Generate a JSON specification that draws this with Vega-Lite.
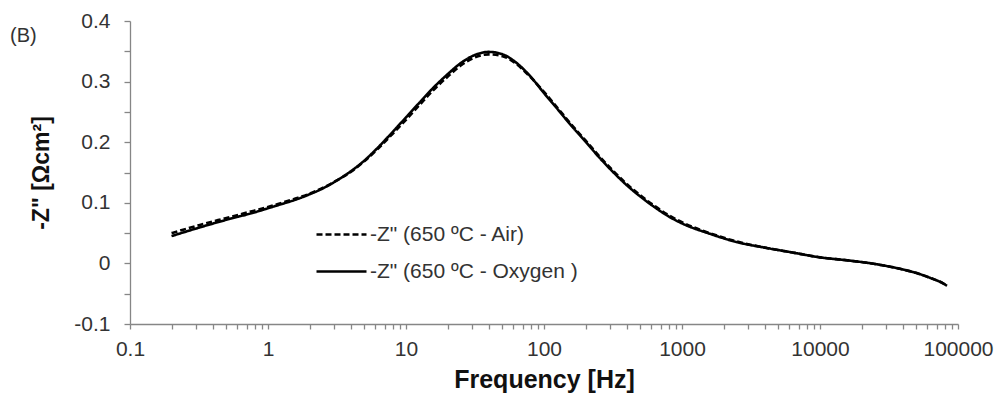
{
  "$schema": "https://vega.github.io/schema/vega-lite/v6.json",
  "width": 828,
  "height": 303,
  "autosize": {"type": "none"},
  "padding": {"left": 130, "top": 21, "right": 42, "bottom": 84},
  "background": "white",
  "title": {
    "text": "(B)",
    "anchor": "start",
    "frame": "group",
    "dx": -120,
    "dy": 32,
    "offset": -14,
    "baseline": "middle",
    "font": "Liberation Sans",
    "fontSize": 20,
    "fontWeight": "normal",
    "color": "#333333"
  },
  "config": {
    "view": {"stroke": null},
    "font": "Liberation Sans",
    "axis": {
      "grid": false,
      "domainColor": "#868686",
      "tickColor": "#868686",
      "domainWidth": 1.3,
      "tickWidth": 1.3,
      "labelFont": "Liberation Sans",
      "labelFontSize": 21,
      "labelColor": "#333333",
      "titleFont": "Liberation Sans",
      "titleFontSize": 24,
      "titleFontWeight": "bold",
      "titleColor": "#111111"
    }
  },
  "data": {
    "values": [
      {"series": "Air", "f": 0.2, "z": 0.050},
      {"series": "Air", "f": 0.316, "z": 0.063},
      {"series": "Air", "f": 0.5, "z": 0.075},
      {"series": "Air", "f": 0.794, "z": 0.087},
      {"series": "Air", "f": 1.0, "z": 0.093},
      {"series": "Air", "f": 1.26, "z": 0.100},
      {"series": "Air", "f": 1.58, "z": 0.107},
      {"series": "Air", "f": 2.0, "z": 0.115},
      {"series": "Air", "f": 2.51, "z": 0.125},
      {"series": "Air", "f": 3.16, "z": 0.137},
      {"series": "Air", "f": 3.98, "z": 0.151},
      {"series": "Air", "f": 5.01, "z": 0.169},
      {"series": "Air", "f": 6.31, "z": 0.190},
      {"series": "Air", "f": 7.94, "z": 0.213},
      {"series": "Air", "f": 10, "z": 0.237},
      {"series": "Air", "f": 12.6, "z": 0.262},
      {"series": "Air", "f": 15.8, "z": 0.286},
      {"series": "Air", "f": 20, "z": 0.308},
      {"series": "Air", "f": 25.1, "z": 0.327},
      {"series": "Air", "f": 31.6, "z": 0.340},
      {"series": "Air", "f": 39.8, "z": 0.345},
      {"series": "Air", "f": 50.1, "z": 0.342},
      {"series": "Air", "f": 63.1, "z": 0.329},
      {"series": "Air", "f": 79.4, "z": 0.308},
      {"series": "Air", "f": 100, "z": 0.283},
      {"series": "Air", "f": 126, "z": 0.256},
      {"series": "Air", "f": 158, "z": 0.229},
      {"series": "Air", "f": 200, "z": 0.203},
      {"series": "Air", "f": 251, "z": 0.177},
      {"series": "Air", "f": 316, "z": 0.153},
      {"series": "Air", "f": 398, "z": 0.131},
      {"series": "Air", "f": 501, "z": 0.112},
      {"series": "Air", "f": 631, "z": 0.095},
      {"series": "Air", "f": 794, "z": 0.080},
      {"series": "Air", "f": 1000, "z": 0.068},
      {"series": "Air", "f": 1585, "z": 0.050},
      {"series": "Air", "f": 2512, "z": 0.036},
      {"series": "Air", "f": 3981, "z": 0.026},
      {"series": "Air", "f": 6310, "z": 0.018},
      {"series": "Air", "f": 10000, "z": 0.010},
      {"series": "Air", "f": 15849, "z": 0.005},
      {"series": "Air", "f": 25119, "z": -0.001},
      {"series": "Air", "f": 39811, "z": -0.010},
      {"series": "Air", "f": 50119, "z": -0.016},
      {"series": "Air", "f": 63096, "z": -0.024},
      {"series": "Air", "f": 79433, "z": -0.034},
      {"series": "Air", "f": 83176, "z": -0.037},
      {"series": "Oxygen", "f": 0.2, "z": 0.045},
      {"series": "Oxygen", "f": 0.316, "z": 0.059},
      {"series": "Oxygen", "f": 0.5, "z": 0.072},
      {"series": "Oxygen", "f": 0.794, "z": 0.084},
      {"series": "Oxygen", "f": 1.0, "z": 0.091},
      {"series": "Oxygen", "f": 1.26, "z": 0.098},
      {"series": "Oxygen", "f": 1.58, "z": 0.105},
      {"series": "Oxygen", "f": 2.0, "z": 0.114},
      {"series": "Oxygen", "f": 2.51, "z": 0.124},
      {"series": "Oxygen", "f": 3.16, "z": 0.137},
      {"series": "Oxygen", "f": 3.98, "z": 0.152},
      {"series": "Oxygen", "f": 5.01, "z": 0.170},
      {"series": "Oxygen", "f": 6.31, "z": 0.192},
      {"series": "Oxygen", "f": 7.94, "z": 0.216},
      {"series": "Oxygen", "f": 10, "z": 0.241},
      {"series": "Oxygen", "f": 12.6, "z": 0.266},
      {"series": "Oxygen", "f": 15.8, "z": 0.290},
      {"series": "Oxygen", "f": 20, "z": 0.312},
      {"series": "Oxygen", "f": 25.1, "z": 0.331},
      {"series": "Oxygen", "f": 31.6, "z": 0.344},
      {"series": "Oxygen", "f": 39.8, "z": 0.349},
      {"series": "Oxygen", "f": 50.1, "z": 0.345},
      {"series": "Oxygen", "f": 63.1, "z": 0.331},
      {"series": "Oxygen", "f": 79.4, "z": 0.309},
      {"series": "Oxygen", "f": 100, "z": 0.281},
      {"series": "Oxygen", "f": 126, "z": 0.254},
      {"series": "Oxygen", "f": 158, "z": 0.227},
      {"series": "Oxygen", "f": 200, "z": 0.201},
      {"series": "Oxygen", "f": 251, "z": 0.175},
      {"series": "Oxygen", "f": 316, "z": 0.151},
      {"series": "Oxygen", "f": 398, "z": 0.129},
      {"series": "Oxygen", "f": 501, "z": 0.110},
      {"series": "Oxygen", "f": 631, "z": 0.093},
      {"series": "Oxygen", "f": 794, "z": 0.078},
      {"series": "Oxygen", "f": 1000, "z": 0.066},
      {"series": "Oxygen", "f": 1585, "z": 0.049},
      {"series": "Oxygen", "f": 2512, "z": 0.035},
      {"series": "Oxygen", "f": 3981, "z": 0.026},
      {"series": "Oxygen", "f": 6310, "z": 0.018},
      {"series": "Oxygen", "f": 10000, "z": 0.010},
      {"series": "Oxygen", "f": 15849, "z": 0.005},
      {"series": "Oxygen", "f": 25119, "z": -0.001},
      {"series": "Oxygen", "f": 39811, "z": -0.010},
      {"series": "Oxygen", "f": 50119, "z": -0.016},
      {"series": "Oxygen", "f": 63096, "z": -0.024},
      {"series": "Oxygen", "f": 79433, "z": -0.034},
      {"series": "Oxygen", "f": 83176, "z": -0.037}
    ]
  },
  "mark": {"type": "line", "interpolate": "monotone", "color": "black", "strokeWidth": 2.6, "clip": true},
  "encoding": {
    "x": {
      "field": "f",
      "type": "quantitative",
      "scale": {"type": "log", "domain": [0.1, 100000], "nice": false},
      "axis": {
        "title": "Frequency [Hz]",
        "titleFontSize": 25,
        "values": [0.1,0.2,0.3,0.4,0.5,0.6,0.7,0.8,0.9,1,2,3,4,5,6,7,8,9,10,20,30,40,50,60,70,80,90,100,200,300,400,500,600,700,800,900,1000,2000,3000,4000,5000,6000,7000,8000,9000,10000,20000,30000,40000,50000,60000,70000,80000,90000,100000],
        "labelExpr": "indexof([0.1,1,10,100,1000,10000,100000], datum.value) >= 0 ? format(datum.value, '') : ''",
        "tickSize": 5,
        "labelPadding": 9,
        "labelFlush": false,
        "labelOverlap": false,
        "titlePadding": 8
      }
    },
    "y": {
      "field": "z",
      "type": "quantitative",
      "scale": {"domain": [-0.1, 0.4], "nice": false},
      "axis": {
        "title": "-Z\" [Ωcm²]",
        "titleFontSize": 23,
        "values": [-0.1,-0.05,0,0.05,0.1,0.15,0.2,0.25,0.3,0.35,0.4],
        "labelExpr": "indexof([-0.1,0,0.1,0.2,0.3,0.4], datum.value) >= 0 ? replace(format(datum.value, ''), '−', '-') : ''",
        "tickSize": 6,
        "labelPadding": 14,
        "labelFlush": false,
        "labelOverlap": false,
        "titlePadding": 20
      }
    },
    "strokeDash": {
      "field": "series",
      "type": "nominal",
      "scale": {"domain": ["Air", "Oxygen"], "range": [[6, 3], [1, 0]]},
      "legend": {
        "title": null,
        "orient": "none",
        "legendX": 185,
        "legendY": 187,
        "symbolType": "stroke",
        "symbolSize": 2500,
        "symbolStrokeWidth": 2.6,
        "symbolStrokeColor": "black",
        "labelFont": "Liberation Sans",
        "labelFontSize": 21,
        "labelColor": "#333333",
        "labelOffset": 2,
        "labelLimit": 400,
        "rowPadding": -20,
        "labelExpr": "datum.value == 'Air' ? '-Z\" (650 ºC - Air)' : '-Z\" (650 ºC - Oxygen )'"
      }
    }
  }
}
